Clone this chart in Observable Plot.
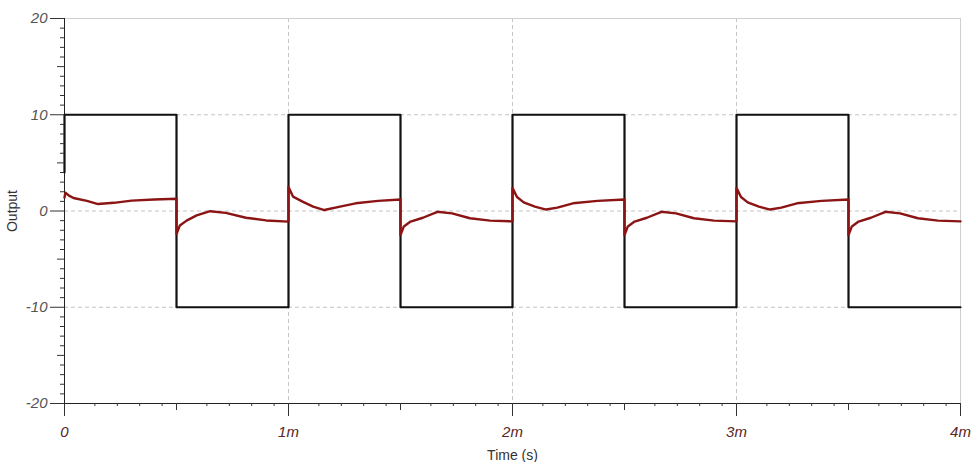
<!DOCTYPE html>
<html><head><meta charset="utf-8">
<script src="https://cdn.jsdelivr.net/npm/d3@7"></script>
<script src="https://cdn.jsdelivr.net/npm/@observablehq/plot@0.6"></script>
<style>body{margin:0;background:#fff;} svg{display:block}</style>
</head><body><div id="chart"></div>
<script>
// time in milliseconds
const blackTime  = [0, 0, 0.5, 0.5, 1, 1, 1.5, 1.5, 2, 2, 2.5, 2.5, 3, 3, 3.5, 3.5, 4];
const blackValue = [4, 10, 10, -10, -10, 10, 10, -10, -10, 10, 10, -10, -10, 10, 10, -10, -10];

const redTime = [
  0, 0.004, 0.02, 0.04, 0.1, 0.15, 0.22, 0.3, 0.4, 0.5,
  0.5, 0.515, 0.545, 0.59, 0.65, 0.72, 0.81, 0.9, 1.0,
  1.0, 1.02, 1.065, 1.11, 1.16, 1.23, 1.3, 1.4, 1.5,
  1.5, 1.515, 1.545, 1.6, 1.665, 1.73, 1.81, 1.9, 2.0,
  2.0, 2.02, 2.05, 2.1, 2.15, 2.2, 2.27, 2.38, 2.5,
  2.5, 2.515, 2.545, 2.6, 2.665, 2.73, 2.81, 2.9, 3.0,
  3.0, 3.02, 3.05, 3.1, 3.15, 3.2, 3.27, 3.38, 3.5,
  3.5, 3.515, 3.545, 3.6, 3.665, 3.73, 3.81, 3.9, 4.0
];
const redValue = [
  1.4, 1.9, 1.6, 1.35, 1.05, 0.72, 0.85, 1.08, 1.2, 1.27,
  -2.4, -1.5, -1.0, -0.45, -0.02, -0.2, -0.7, -0.98, -1.1,
  2.5, 1.5, 0.95, 0.45, 0.1, 0.45, 0.8, 1.05, 1.2,
  -2.5, -1.6, -1.1, -0.7, -0.08, -0.25, -0.75, -1.0, -1.08,
  2.4, 1.45, 0.9, 0.45, 0.15, 0.35, 0.8, 1.05, 1.2,
  -2.5, -1.6, -1.1, -0.7, -0.08, -0.25, -0.75, -1.0, -1.08,
  2.4, 1.45, 0.9, 0.45, 0.15, 0.35, 0.8, 1.05, 1.2,
  -2.5, -1.6, -1.1, -0.7, -0.08, -0.25, -0.75, -1.0, -1.08
];

const xMajor = [0, 1, 2, 3, 4];
const xMid = [0.5, 1.5, 2.5, 3.5];
const yMajor = [-20, -10, 0, 10, 20];
const yMid = [-15, -5, 5, 15];
const xLabels = ["0", "1m", "2m", "3m", "4m"];
const yLabels = ["-20", "-10", "0", "10", "20"];

const xMinor = d3.range(0, 41).map(i => i / 10).filter(v => Math.abs(v * 2 - Math.round(v * 2)) > 1e-6);
const yMinor = d3.range(-20, 21).filter(v => v % 5 !== 0);

const blackData = blackTime.map((t, i) => ({t, v: blackValue[i]}));
const redData = redTime.map((t, i) => ({t, v: redValue[i]}));

const chart = Plot.plot({
  width: 975, height: 462,
  marginLeft: 64, marginRight: 15, marginTop: 18, marginBottom: 59,
  style: {fontFamily: "'Liberation Sans', Arial, sans-serif", fontSize: "15px", background: "#fff"},
  x: {domain: [0, 4]},
  y: {domain: [-20, 20]},
  marks: [
    Plot.ruleX(xMajor.slice(1, -1), {stroke: "#c4c4c4", strokeDasharray: "4,3"}),
    Plot.ruleY(yMajor.slice(1, -1), {stroke: "#c4c4c4", strokeDasharray: "4,3"}),
    Plot.ruleY([20], {stroke: "#cfcfcf"}),
    Plot.ruleX([4], {stroke: "#cfcfcf"}),
    Plot.ruleX([0], {stroke: "#222"}),
    Plot.ruleY([-20], {stroke: "#222"}),
    Plot.line(blackData, {x: "t", y: "v", stroke: "#111", strokeWidth: 2.2}),
    Plot.line(redData, {x: "t", y: "v", stroke: "#8b1414", strokeWidth: 2.4, curve: "linear"}),
    Plot.axisY({ticks: yMinor, tickSize: 4, tickFormat: () => "", stroke: "#333", label: "Output", labelArrow: "none", labelAnchor: "center", labelOffset: 57, fill: "#333", fontSize: 14}),
    Plot.axisY({ticks: yMid, tickSize: 7, tickFormat: () => "", stroke: "#333", label: null}),
    Plot.axisY({ticks: yMajor, tickSize: 14, tickPadding: 3, stroke: "#333", fill: "#555", fontStyle: "italic", tickFormat: (d, i) => yLabels[i], label: null}),
    Plot.axisX({ticks: xMinor, tickSize: 3, tickFormat: () => "", stroke: "#333", label: "Time (s)", labelArrow: "none", labelAnchor: "center", labelOffset: 56, fill: "#333", fontSize: 14, dx: 8}),
    Plot.axisX({ticks: xMid, tickSize: 7, tickFormat: () => "", stroke: "#333", label: null}),
    Plot.axisX({ticks: xMajor, tickSize: 13, tickPadding: 10, stroke: "#333", fill: "#5a2626", fontStyle: "italic", tickFormat: (d, i) => xLabels[i], label: null})
  ]
});
document.getElementById("chart").appendChild(chart);
</script>
</body></html>
